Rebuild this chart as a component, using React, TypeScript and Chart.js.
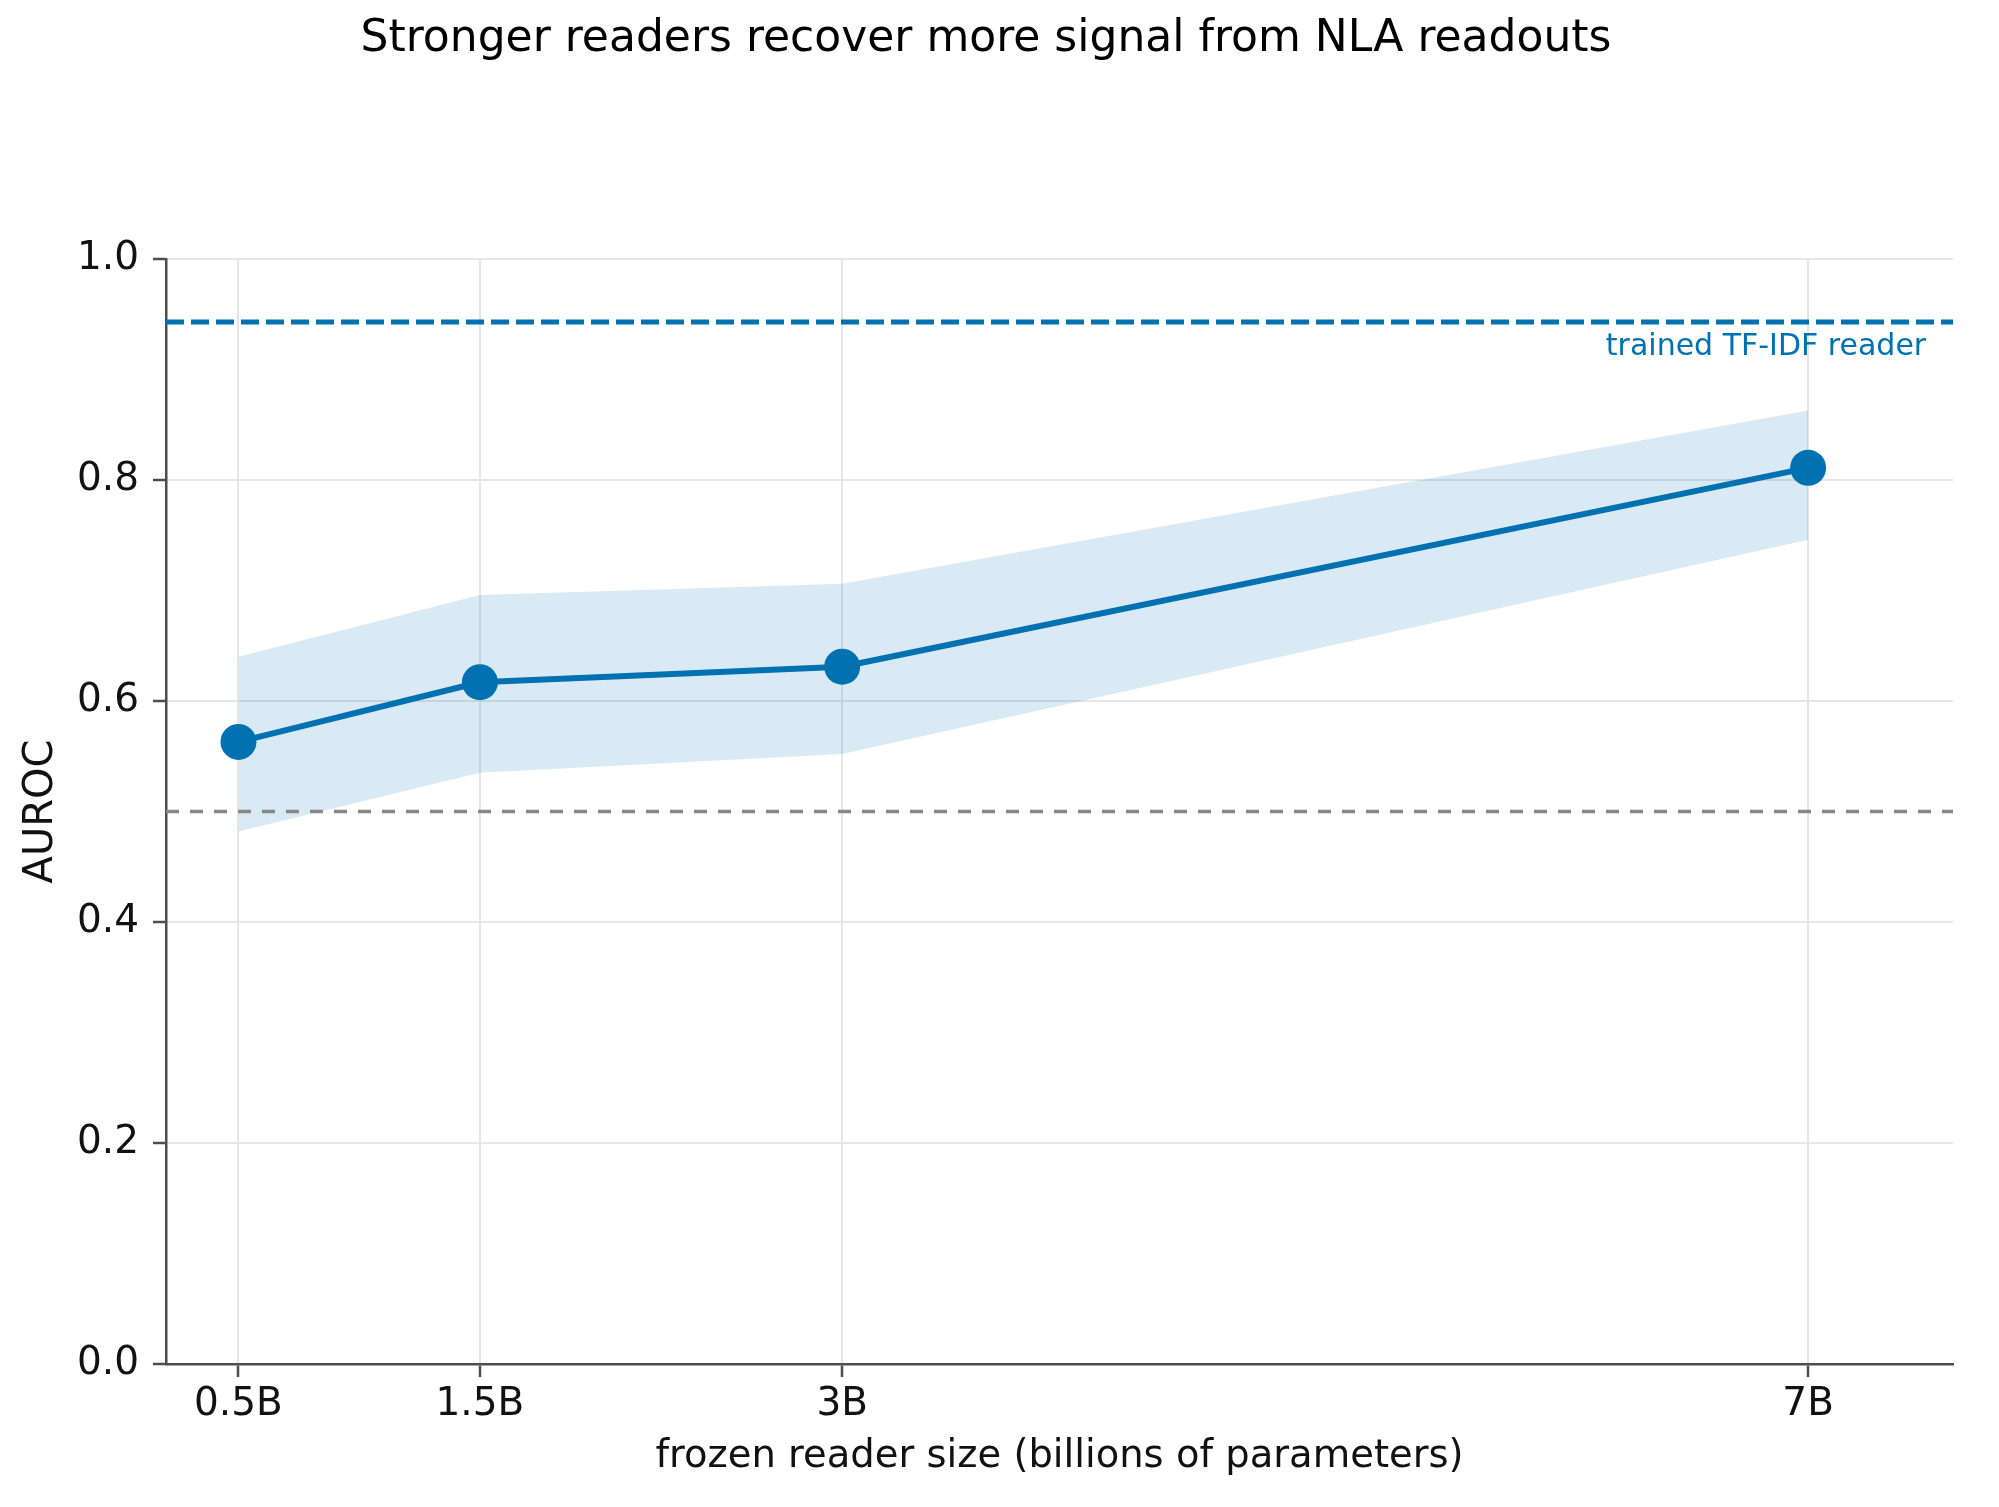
import { useEffect, useRef } from 'react'
import { Chart, registerables } from 'chart.js'

Chart.register(...registerables)

// reader sizes (billions of params) and their tick labels
const SIZES = [0.5, 1.5, 3, 7]
const SIZE_LABELS = ['0.5B', '1.5B', '3B', '7B']

// AUROC
const AUROC_MEAN = [0.563, 0.617, 0.631, 0.811]
const AUROC_UPPER = [0.64, 0.696, 0.706, 0.863]
const AUROC_LOWER = [0.482, 0.535, 0.552, 0.746]

const CHANCE = 0.5
const TFIDF_AUROC = 0.943
const X_MIN = 0.2
const X_MAX = 7.6

const TITLE = 'Stronger readers recover more signal from NLA readouts'
const TFIDF_LABEL = 'trained TF-IDF reader'
const X_TITLE = 'frozen reader size (billions of parameters)'
const Y_TITLE = 'AUROC'

const FONT = "'DejaVu Sans', 'Noto Sans', sans-serif"
const BLUE = '#0072B2'
const AXIS = '#4d4d4d'
const GRID = '#e6e6e6'

const overlayText = {
  id: 'overlayText',
  afterDraw(chart: Chart) {
    const { ctx, chartArea, scales } = chart
    ctx.save()
    // figure title
    ctx.fillStyle = '#000'
    ctx.font = `44px ${FONT}`
    ctx.textAlign = 'center'
    ctx.textBaseline = 'alphabetic'
    ctx.fillText(TITLE, 986, 51)
    // label under the TF-IDF reference line
    ctx.fillStyle = BLUE
    ctx.font = `30px ${FONT}`
    ctx.textAlign = 'right'
    const x = chartArea.left + 0.985 * (chartArea.right - chartArea.left)
    ctx.fillText(TFIDF_LABEL, x, scales.y.getPixelForValue(TFIDF_AUROC) + 33)
    ctx.restore()
  },
}

export default function App() {
  const canvasRef = useRef<HTMLCanvasElement>(null)

  useEffect(() => {
    if (!canvasRef.current) return
    const pts = (ys: number[]) => SIZES.map((x, i) => ({ x, y: ys[i] }))
    const hline = (y: number) => [
      { x: X_MIN, y },
      { x: X_MAX, y },
    ]

    const chart = new Chart(canvasRef.current, {
      type: 'line',
      data: {
        datasets: [
          {
            data: pts(AUROC_MEAN),
            borderColor: BLUE,
            backgroundColor: BLUE,
            borderWidth: 6,
            borderJoinStyle: 'round',
            pointRadius: 18,
            pointBorderWidth: 0,
            pointBackgroundColor: BLUE,
            order: 0,
            clip: false,
          },
          {
            data: hline(TFIDF_AUROC),
            borderColor: BLUE,
            borderWidth: 5,
            borderDash: [18, 7],
            pointRadius: 0,
            order: 1,
          },
          {
            data: hline(CHANCE),
            borderColor: '#888888',
            borderWidth: 3.5,
            borderDash: [13, 11],
            pointRadius: 0,
            order: 2,
          },
          {
            data: pts(AUROC_UPPER),
            borderWidth: 0,
            pointRadius: 0,
            fill: '+1',
            backgroundColor: 'rgba(0, 114, 178, 0.15)',
            order: 3,
          },
          {
            data: pts(AUROC_LOWER),
            borderWidth: 0,
            pointRadius: 0,
            fill: false,
            order: 4,
          },
        ],
      },
      options: {
        animation: false,
        responsive: false,
        devicePixelRatio: 1,
        layout: { padding: { top: 259, right: 46, bottom: 0, left: 0 } },
        plugins: {
          legend: { display: false },
          tooltip: { enabled: false },
          title: { display: false },
        },
        elements: { line: { tension: 0 } },
        scales: {
          x: {
            type: 'linear',
            min: X_MIN,
            max: X_MAX,
            afterBuildTicks: (scale: any) => {
              scale.ticks = SIZES.map((v) => ({ value: v }))
            },
            afterFit: (scale: any) => {
              scale.height = 143
            },
            border: { color: AXIS, width: 2.5 },
            grid: { color: GRID, lineWidth: 2, tickColor: AXIS, tickWidth: 2.5, tickLength: 13 },
            ticks: {
              autoSkip: false,
              maxRotation: 0,
              padding: 8,
              color: '#111',
              font: { family: FONT, size: 39, lineHeight: 1 },
              callback: (v: any) => SIZE_LABELS[SIZES.indexOf(Number(v))] ?? '',
            },
            title: {
              display: true,
              text: X_TITLE,
              color: '#111',
              font: { family: FONT, size: 38.5 },
              padding: { top: 0, bottom: 27 },
            },
          },
          y: {
            min: 0,
            max: 1,
            afterFit: (scale: any) => {
              scale.width = 166
            },
            border: { color: AXIS, width: 2.5 },
            grid: { color: GRID, lineWidth: 2, tickColor: AXIS, tickWidth: 2.5, tickLength: 13 },
            ticks: {
              stepSize: 0.2,
              padding: 14,
              color: '#111',
              font: { family: FONT, size: 39, lineHeight: 1 },
              callback: (v: any) => Number(v).toFixed(1),
            },
            title: {
              display: true,
              text: Y_TITLE,
              color: '#111',
              font: { family: FONT, size: 40 },
              padding: { top: 18, bottom: 0 },
            },
          },
        },
      },
      plugins: [overlayText],
    })

    return () => chart.destroy()
  }, [])

  return (
    <div style={{ position: 'fixed', left: 0, top: 0, width: 1999, height: 1507, background: '#fff' }}>
      <canvas ref={canvasRef} width={1999} height={1507} style={{ width: 1999, height: 1507 }} />
    </div>
  )
}
